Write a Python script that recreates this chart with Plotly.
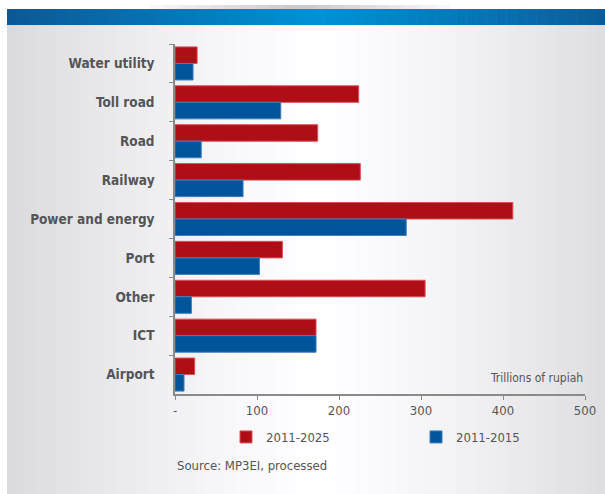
import plotly.graph_objects as go

categories = ["Water utility", "Toll road", "Road", "Railway", "Power and energy",
              "Port", "Other", "ICT", "Airport"]
values_2011_2025 = [27, 224, 174, 226, 412, 131, 305, 172, 24]
values_2011_2015 = [22, 129, 32, 83, 282, 103, 20, 172, 11]
x_tickvals = [0, 100, 200, 300, 400, 500]
x_ticktext = ["-", "100", "200", "300", "400", "500"]

RED = "#b00e17"
BLUE = "#00559a"
FONT = "DejaVu Sans Condensed, Liberation Sans Narrow, sans-serif"

W, H = 605, 494
L, R, T, B = 175, 20, 44, 100
PW = W - L - R
PH = H - T - B

def px_x(p):
    return (p - L) / PW

def px_y(p):
    return 1 - (p - T) / PH

fig = go.Figure()
fig.add_trace(go.Bar(y=categories, x=values_2011_2025, name="2011-2025", orientation="h",
                     marker=dict(color=RED, line=dict(color="#d9505a", width=1))))
fig.add_trace(go.Bar(y=categories, x=values_2011_2015, name="2011-2015", orientation="h",
                     marker=dict(color=BLUE, line=dict(color="#3c7fbf", width=1))))

shapes = []
N = 60
x_start, x_end = 7, 606
def lerp(a, b, t):
    return a + (b - a) * t
for i in range(N):
    a = x_start + (x_end - x_start) * i / N
    b = x_start + (x_end - x_start) * (i + 1) / N + 0.6
    c = (i + 0.5) / N
    d = abs(c - 0.52) / 0.52
    d = min(d, 1) ** 1.3
    g = int(lerp(255, 219, d))
    col = f"rgb({g},{g},{min(255, g + 2)})"
    shapes.append(dict(type="rect", xref="paper", yref="paper", x0=px_x(a), x1=px_x(b),
                       y0=px_y(H + 2), y1=px_y(25), fillcolor=col, line=dict(width=0), layer="below"))
    dd = min(abs(c - 0.52) / 0.52, 1)
    r_ = int(lerp(0, 12, dd)); g_ = int(lerp(146, 88, dd)); b_ = int(lerp(216, 150, dd))
    shapes.append(dict(type="rect", xref="paper", yref="paper", x0=px_x(a), x1=px_x(b),
                       y0=px_y(25), y1=px_y(9), fillcolor=f"rgb({r_},{g_},{b_})",
                       line=dict(width=0), layer="below"))
for i in range(20):
    a = 150 + 300 * i / 20
    b = 150 + 300 * (i + 1) / 20 + 0.6
    c = (i + 0.5) / 20
    d = abs(c - 0.5) / 0.5
    g = int(lerp(200, 250, d))
    shapes.append(dict(type="rect", xref="paper", yref="paper", x0=px_x(a), x1=px_x(b),
                       y0=px_y(9), y1=px_y(5), fillcolor=f"rgb({g},{g},{g})",
                       line=dict(width=0), layer="below"))

fig.update_layout(
    width=W, height=H,
    margin=dict(l=L, r=R, t=T, b=B, autoexpand=False),
    paper_bgcolor="white", plot_bgcolor="rgba(0,0,0,0)",
    barmode="group", bargap=0.15, bargroupgap=0,
    font=dict(family=FONT, color="#555555", size=13),
    shapes=shapes,
    showlegend=True,
    legend=dict(orientation="h", x=px_x(226), y=px_y(422), xanchor="left", yanchor="top",
                entrywidth=145, entrywidthmode="pixels",
                font=dict(size=13, color="#555555", family=FONT), bgcolor="rgba(0,0,0,0)"),
    xaxis=dict(range=[0, 500], tickvals=x_tickvals, ticktext=x_ticktext, showgrid=False,
               zeroline=False, showline=True, linecolor="#8a8a8a", linewidth=1.5,
               ticks="outside", ticklen=4, tickcolor="#8a8a8a", automargin=False,
               tickfont=dict(size=13, color="#555555")),
    yaxis=dict(autorange="reversed", showgrid=False, zeroline=False, showline=True,
               linecolor="#8a8a8a", linewidth=1.5, ticks="outside", ticklen=4,
               tickcolor="#8a8a8a", tickson="boundaries", ticklabelstandoff=16,
               automargin=False,
               tickfont=dict(size=13.5, color="#555555", family=FONT, weight="bold")),
    annotations=[
        dict(text="Trillions of rupiah", xref="paper", yref="paper", x=1, y=px_y(378),
             xanchor="right", yanchor="middle", showarrow=False,
             font=dict(size=12, color="#555555")),
        dict(text="Source: MP3EI, processed", xref="paper", yref="paper", x=0, y=px_y(465),
             xanchor="left", yanchor="middle", showarrow=False,
             font=dict(size=13, color="#555555")),
    ],
)

fig.write_html("out.html", config={"displayModeBar": False},
               post_script="document.body.style.margin='0';")
